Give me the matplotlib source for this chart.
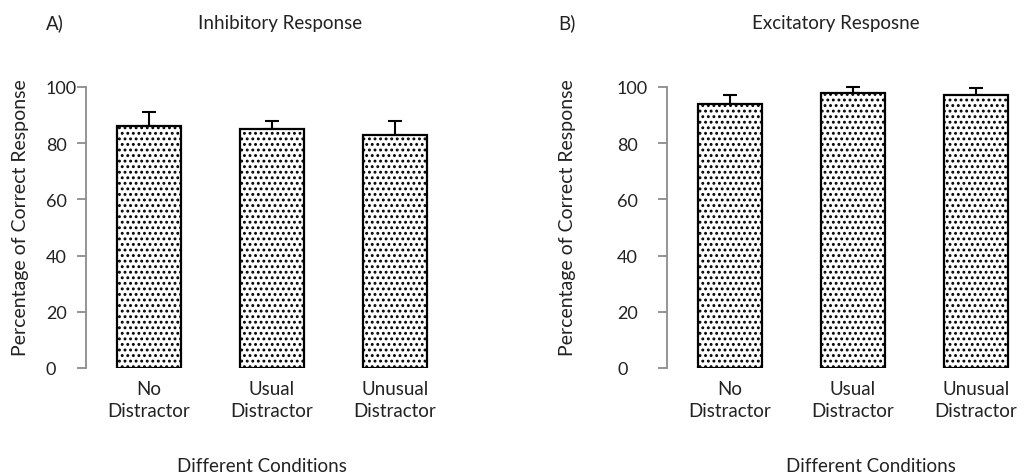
import numpy as np
import matplotlib
matplotlib.use('Agg')
import matplotlib.pyplot as plt

plt.rcParams['font.family'] = ['Lato', 'DejaVu Sans']
plt.rcParams['hatch.linewidth'] = 1.3

conditions = ['No\nDistractor', 'Usual\nDistractor', 'Unusual\nDistractor']
inhib_mean = [86, 85, 83]
inhib_err = [5, 3, 5]
excit_mean = [94, 98, 97]
excit_err = [3, 2, 2.5]
yticks = [0, 20, 40, 60, 80, 100]

W, H = 1025, 477
fig = plt.figure(figsize=(W / 100, H / 100), dpi=100)

def px(x, y):
    return x / W, 1 - y / H

# left spine px, data, panel tag, title, label positions, tick pad
panels = [
    (86, inhib_mean, inhib_err, 'A)', 46, 'Inhibitory Response', 280, 262, 21, 22.3),
    (667, excit_mean, excit_err, 'B)', 558, 'Excitatory Resposne', 836, 871, 568, 29.5),
]

x = np.arange(len(conditions))
for left, means, errs, tag, tag_x, title, title_x, xl_x, yl_x, pad in panels:
    ax = fig.add_axes([left / W, (H - 369) / H, 364 / W, 281 / H])
    ax.bar(x, means, width=0.52, color='white', edgecolor='black',
           linewidth=1.6, hatch='...', zorder=2)
    ax.errorbar(x, means, yerr=[np.zeros(len(errs)), errs], fmt='none',
                ecolor='black', elinewidth=1.5, capsize=4.7, capthick=1.5,
                zorder=1, clip_on=False)
    ax.set_xlim(-0.51, 2.45)
    ax.set_ylim(0, 100)
    for s in ['top', 'right', 'bottom']:
        ax.spines[s].set_visible(False)
    ax.spines['left'].set_color('#8c8c8c')
    ax.spines['left'].set_linewidth(1.3)
    ax.set_yticks(yticks)
    ax.tick_params(axis='y', length=6.5, width=1.3, color='#8c8c8c',
                   labelsize=13, pad=pad, labelcolor='#222222')
    for lab in ax.get_yticklabels():
        lab.set_horizontalalignment('left')
    ax.set_xticks(x)
    ax.set_xticklabels(conditions, fontsize=13.5, linespacing=1.35, color='#222222')
    ax.tick_params(axis='x', length=0, pad=9)

    fig.text(*px(tag_x, 23), tag, fontsize=13.5, ha='left', va='center', color='#222222')
    fig.text(*px(title_x, 24), title, fontsize=13.5, ha='center', va='center', color='#222222')
    fig.text(*px(xl_x, 467), 'Different Conditions', fontsize=13.5, ha='center',
             va='center', color='#222222')
    fig.text(*px(yl_x, 218), 'Percentage of Correct Response', fontsize=14,
             rotation=90, ha='center', va='center', color='#222222')

fig.savefig('out.png', dpi=100)
